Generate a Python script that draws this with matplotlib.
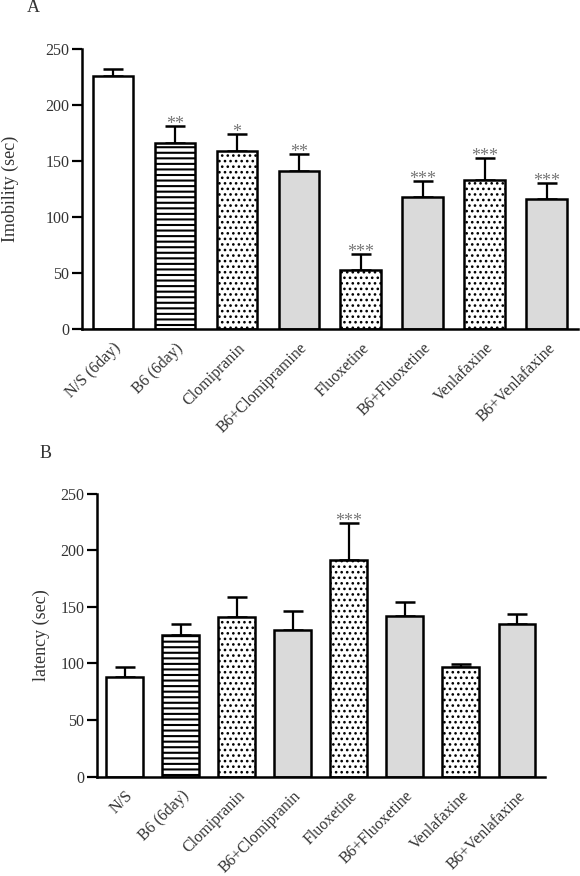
import matplotlib
matplotlib.use('Agg')
import matplotlib.pyplot as plt
import matplotlib.transforms as mtransforms

plt.rcParams['font.family'] = ['Liberation Serif', 'DejaVu Serif']
plt.rcParams['hatch.linewidth'] = 1.5

# Panel A - immobility
labels_a = ['N/S (6day)', 'B6 (6day)', 'Clomipranin', 'B6+Clomipramine',
            'Fluoxetine', 'B6+Fluoxetine', 'Venlafaxine', 'B6+Venlafaxine']
imob = [226, 166, 159, 141, 53, 118, 133, 116]
imob_err = [6.5, 15, 15, 15, 14, 14, 20, 14]
stars_a = ['', '**', '*', '**', '***', '***', '***', '***']

# Panel B - latency
labels_b = ['N/S', 'B6 (6day)', 'Clomipranin', 'B6+Clomipranin',
            'Fluoxetine', 'B6+Fluoxetine', 'Venlafaxine', 'B6+Venlafaxine']
latency = [88, 125, 141, 130, 191, 142, 97, 135]
latency_err = [9, 9.5, 18, 16, 33, 12, 2.5, 9]
stars_b = ['', '', '', '', '***', '', '', '']

fills = ['white', 'white', 'white', '#dadada', 'white', '#dadada', 'white', '#dadada']
hatches = ['', '---', '...', '', '...', '', '...', '']
txt = '#333333'

fig = plt.figure(figsize=(5.8, 8.76), dpi=100)
ax_a = fig.add_axes([0.1414, 0.6244, 0.855, 0.3196])
ax_b = fig.add_axes([0.1667, 0.1134, 0.773, 0.3230])


def draw(ax, labels, vals, errs, stars, ylabel):
    x = list(range(len(vals)))
    for i in x:
        b = ax.bar(i, vals[i], width=0.66, color=fills[i], edgecolor='black',
                   hatch=hatches[i], linewidth=1.8, zorder=2)
        if hatches[i].startswith('.') and hasattr(b[0], 'set_hatch_linewidth'):
            b[0].set_hatch_linewidth(1.1)
    ax.errorbar(x, vals, yerr=[[0] * len(vals), errs], fmt='none', ecolor='black',
                elinewidth=1.6, capsize=7, capthick=1.8, zorder=1)
    for i in x:
        if stars[i]:
            ax.text(i, vals[i] + errs[i] + 1.5, stars[i], ha='center', va='center',
                    fontsize=13, color='#777777')
    ax.set_xlim(-0.5, 7.5)
    ax.set_ylim(0, 250)
    ax.set_yticks([0, 50, 100, 150, 200, 250])
    ax.set_xticks(x)
    ax.set_xticklabels(labels, rotation=45, ha='right', va='top',
                       rotation_mode='anchor', fontsize=11.5, color=txt)
    off = mtransforms.ScaledTranslation(-3 / 100, 0, fig.dpi_scale_trans)
    for lab in ax.get_xticklabels():
        lab.set_transform(lab.get_transform() + off)
    ax.tick_params(axis='x', length=0, pad=8)
    ax.tick_params(axis='y', length=7, width=1.6, labelsize=11.5, labelcolor=txt, pad=2)
    ax.set_ylabel(ylabel, fontsize=13, color=txt)
    for s in ['top', 'right']:
        ax.spines[s].set_visible(False)
    for s in ['left', 'bottom']:
        ax.spines[s].set_linewidth(1.8)


draw(ax_a, labels_a, imob, imob_err, stars_a, 'Imobility (sec)')
draw(ax_b, labels_b, latency, latency_err, stars_b, 'latency (sec)')
ax_a.yaxis.set_label_coords(-0.128, 0.5)
ax_b.yaxis.set_label_coords(-0.104, 0.5)

fig.text(33 / 580, 1 - 7 / 876, 'A', fontsize=13, ha='center', va='center', color=txt)
fig.text(46 / 580, 1 - 454 / 876, 'B', fontsize=13, ha='center', va='center', color=txt)

fig.savefig('out.png', dpi=100)
